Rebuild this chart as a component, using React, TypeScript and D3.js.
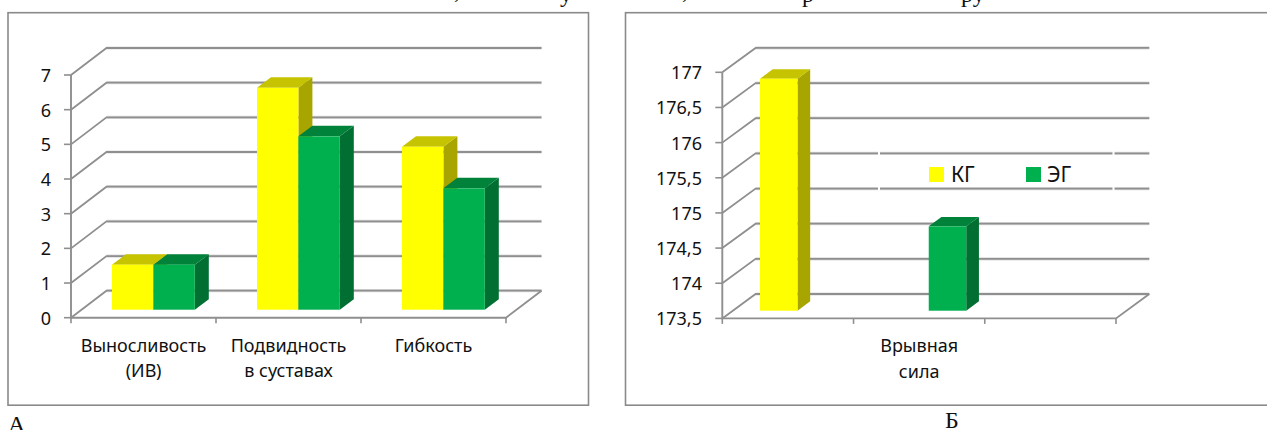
import React from "react";
import * as d3 from "d3";

// Panel A values
const categoriesA = [["Выносливость", "(ИВ)"], ["Подвидность", "в суставах"], ["Гибкость"]];
const controlA = [1.3, 6.4, 4.7];
const experimentalA = [1.3, 5.0, 3.5];
const ticksA = [0, 1, 2, 3, 4, 5, 6, 7];

// Panel Б values: each group sits in its own category slot
const categoriesB = [[], ["Врывная", "сила"], []];
const controlB = [176.8, null, null];
const experimentalB = [null, 174.7, null];
const ticksB = [173.5, 174, 174.5, 175, 175.5, 176, 176.5, 177];

const legendNames = ["КГ", "ЭГ"];

const GRID = "#8f8f8f";
const FONT = "'Noto Sans', sans-serif";
const SERIF = "'Liberation Serif', serif";
const YELLOW = { front: "#ffff00", top: "#c6c300", side: "#a8a500" };
const GREEN = { front: "#00b04f", top: "#00823a", side: "#006f31" };

const poly = d3.line<[number, number]>();
const closed = (pts: [number, number][]) => poly(pts) + "Z";

function Panel({ cfg }: { cfg: any }) {
  const { x0, x1, yTop, yBottom, wallDx, wallDy, barDx, barDy, lift, offset, width, ticks, cats, a, b, tickRight, labelSize } = cfg;
  const slot = d3.scaleBand<number>().domain(d3.range(cats.length)).range([x0, x1]);
  const y = d3.scaleLinear().domain([ticks[0], ticks[ticks.length - 1]]).range([yBottom, yTop]);
  const format = (v: number) => String(v).replace(".", ",");
  const slotEdges = [...slot.domain().map((d) => slot(d) as number), x1];

  const bar = (value: number | null, i: number, pos: number, c: typeof YELLOW, key: string) => {
    if (value === null) return null;
    const l = (slot(i) as number) + offset + pos * width;
    const r = l + width;
    const t = y(value) - lift;
    const base = y(ticks[0]) - lift;
    return (
      <g key={key}>
        <path d={closed([[r, t], [r + barDx, t + barDy], [r + barDx, base + barDy], [r, base]])} fill={c.side} />
        <path d={closed([[l, t], [l + barDx, t + barDy], [r + barDx, t + barDy], [r, t]])} fill={c.top} />
        <rect x={l} y={t} width={width} height={base - t} fill={c.front} />
      </g>
    );
  };

  return (
    <g>
      {/* gridlines run along the side wall, then across the back wall */}
      {ticks.map((t: number) => {
        const p = y(t);
        return (
          <g key={t}>
            <path d={poly([[x0 + wallDx, p + wallDy], [x1 + wallDx, p + wallDy]]) as string} stroke="#dcdcdc" strokeWidth={3.2} fill="none" />
            <path
              d={poly([[x0, p], [x0 + wallDx, p + wallDy], [x1 + wallDx, p + wallDy]]) as string}
              stroke={GRID}
              strokeWidth={1.8}
              fill="none"
            />
            <line x1={x0 - 7} x2={x0} y1={p} y2={p} stroke={GRID} strokeWidth={1.6} />
            <text x={tickRight} y={p + 7} textAnchor="end" fontFamily={FONT} fontSize={18} fill="#111">
              {format(t)}
            </text>
          </g>
        );
      })}
      {/* floor outline and axes */}
      <path d={poly([[x1 + wallDx, yBottom + wallDy], [x1, yBottom], [x0, yBottom], [x0, yTop]]) as string} stroke={GRID} strokeWidth={1.9} fill="none" />
      {slotEdges.map((e: number) => (
        <line key={e} x1={e} x2={e} y1={yBottom} y2={yBottom + 5.5} stroke={GRID} strokeWidth={1.6} />
      ))}
      {a.map((v: number | null, i: number) => bar(v, i, 0, YELLOW, "a" + i))}
      {b.map((v: number | null, i: number) => bar(v, i, 1, GREEN, "b" + i))}
      {cats.map((lines: string[], i: number) => (
        <text key={i} textAnchor="middle" fontFamily={FONT} fontSize={labelSize} fill="#111">
          {lines.map((s, j) => (
            <tspan key={j} x={(slot(i) as number) + slot.bandwidth() / 2} y={yBottom + 34 + j * 25.5}>
              {s}
            </tspan>
          ))}
        </text>
      ))}
    </g>
  );
}

const panelA = {
  x0: 71, x1: 506, yTop: 75, yBottom: 317.7, wallDx: 35.5, wallDy: -27,
  barDx: 14, barDy: -10.5, lift: 8, offset: 41, width: 41.4,
  ticks: ticksA, cats: categoriesA, a: controlA, b: experimentalA,
  tickRight: 51, labelSize: 18,
};
const panelB = {
  x0: 722.3, x1: 1116, yTop: 72.3, yBottom: 318.4, wallDx: 33.3, wallDy: -24.4,
  barDx: 12.7, barDy: -9.4, lift: 7.7, offset: 37.7, width: 37.5,
  ticks: ticksB, cats: categoriesB, a: controlB, b: experimentalB,
  tickRight: 702, labelSize: 18,
};

// Descenders of the text line running off the top edge
const headerGlyphs = [
  { s: ",", x: 454, y: -2 },
  { s: "у", x: 560, y: 1.5 },
  { s: ",", x: 682, y: -2 },
  { s: "р", x: 802, y: 1.5 },
  { s: "ру", x: 961, y: 1.5 },
];

export default function App() {
  return (
    <svg width={1267} height={430} style={{ position: "absolute", left: 0, top: 0, display: "block" }}>
      <rect width={1267} height={430} fill="#fff" />
      {headerGlyphs.map((g, i) => (
        <text key={i} x={g.x} y={g.y} fontFamily={SERIF} fontSize={24} fill="#111">
          {g.s}
        </text>
      ))}
      <rect x={8} y={12.7} width={580.5} height={392.5} fill="#fff" stroke="#8a8a8a" strokeWidth={1.6} />
      <rect x={625.5} y={12.7} width={660} height={392.5} fill="#fff" stroke="#8a8a8a" strokeWidth={1.6} />
      <Panel cfg={panelA} />
      <Panel cfg={panelB} />
      {/* legend box, outlined in white over the gridlines */}
      <rect x={879} y={140} width={234.5} height={60} fill="none" stroke="#fff" strokeWidth={2} />
      <rect x={929} y={167} width={15} height={15} fill={YELLOW.front} />
      <text x={951} y={181.5} fontFamily={FONT} fontSize={21} fill="#111">{legendNames[0]}</text>
      <rect x={1026} y={167} width={15} height={15} fill={GREEN.front} />
      <text x={1047} y={181.5} fontFamily={FONT} fontSize={21} fill="#111">{legendNames[1]}</text>
      <text x={8} y={431.5} fontFamily={SERIF} fontSize={24} fill="#111">А</text>
      <text x={945} y={428} fontFamily={SERIF} fontSize={24} fill="#111">Б</text>
    </svg>
  );
}
